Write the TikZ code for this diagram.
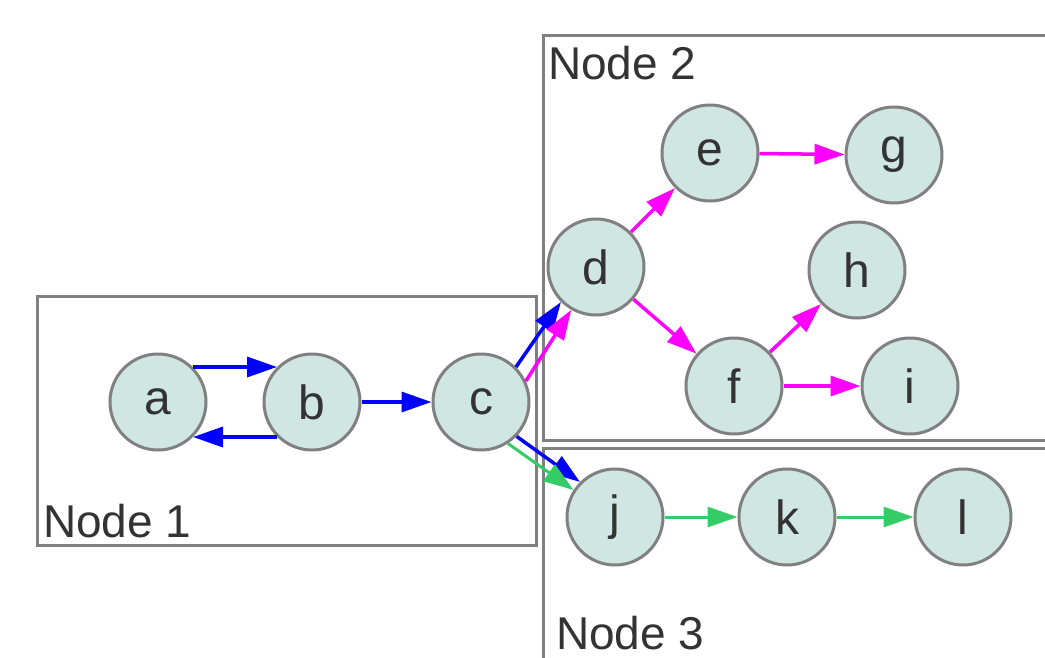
\documentclass[tikz,border=0pt]{standalone}
\usepackage{fontspec}
\setmainfont{Liberation Sans}
\usetikzlibrary{arrows.meta}

\definecolor{vfill}{RGB}{207,230,227}
\definecolor{vline}{RGB}{128,128,128}
\definecolor{vtext}{RGB}{51,51,51}
\definecolor{eblue}{RGB}{0,0,255}
\definecolor{epink}{RGB}{255,0,255}
\definecolor{egreen}{RGB}{51,204,102}

\tikzset{
    vertex/.style={circle, draw=vline, fill=vfill, line width=3pt,
        minimum size=96pt, inner sep=0pt, text=vtext,
        font=\fontsize{48}{56}\selectfont},
    group/.style={draw=vline, line width=3pt},
    grouplabel/.style={anchor=base west, inner sep=0pt, text=vtext,
        font=\fontsize{46}{54}\selectfont},
    edge/.style={line width=3.5pt, -{Triangle[length=30pt, width=20pt]}},
    blueedge/.style={edge, eblue},
    pinkedge/.style={edge, epink},
    greenedge/.style={edge, egreen, line width=3pt}
}

\begin{document}
\begin{tikzpicture}[x=1pt, y=-1pt]
    \useasboundingbox (0,0) rectangle (1045,657);
    \clip (0,0) rectangle (1045,657);

    % Compound boxes
    \draw[group] (37,296) rectangle (536,545);
    \draw[group] (543,35) rectangle (1060,440);
    \draw[group] (543,448) rectangle (1060,680);
    \node[grouplabel] (lab1) at (43,537) {Node 1};
    \node[grouplabel] (lab2) at (548,79) {Node 2};
    \node[grouplabel] (lab3) at (556,649) {Node 3};

    % Vertices
    \node[vertex] (a) at (158,402) {a};
    \node[vertex] (b) at (312,402) {b};
    \node[vertex] (c) at (481,402) {c};
    \node[vertex] (d) at (596,267) {d};
    \node[vertex] (e) at (710,153) {e};
    \node[vertex] (g) at (894,155) {g};
    \node[vertex] (h) at (857,270) {h};
    \node[vertex] (f) at (734,386) {f};
    \node[vertex] (i) at (910,386) {i};
    \node[vertex] (j) at (615,517) {j};
    \node[vertex] (k) at (787,517) {k};
    \node[vertex] (l) at (963,517) {l};

    % Edges
    \draw[blueedge] (a.45) -- (b.135);
    \draw[blueedge] (b.225) -- (a.-45);
    \draw[blueedge] (b) -- (c);
    \draw[blueedge] (c.45) -- (d.225);
    \draw[pinkedge] (c.25) -- (d.240);
    \draw[blueedge] (c.-44) -- (j.135);
    \draw[greenedge] (c.-57) -- (j.147);
    \draw[pinkedge] (d) -- (e);
    \draw[pinkedge] (e) -- (g);
    \draw[pinkedge] (d) -- (f);
    \draw[pinkedge] (f) -- (h);
    \draw[pinkedge] (f) -- (i);
    \draw[greenedge] (j) -- (k);
    \draw[greenedge] (k) -- (l);
\end{tikzpicture}
\end{document}
